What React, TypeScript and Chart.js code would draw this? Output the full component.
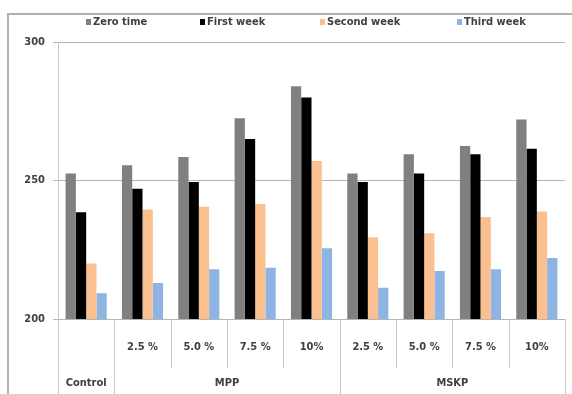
import React, { useEffect, useRef } from "react";
import { Chart, registerables } from "chart.js";

Chart.register(...registerables);

const categories = ["Control", "MPP 2.5 %", "MPP 5.0 %", "MPP 7.5 %", "MPP 10%", "MSKP 2.5 %", "MSKP 5.0 %", "MSKP 7.5 %", "MSKP 10%"];
const levelLabels = ["", "2.5 %", "5.0 %", "7.5 %", "10%", "2.5 %", "5.0 %", "7.5 %", "10%"];
const groupLabels = ["Control", "MPP", "MSKP"];
const groupStarts = [0, 1, 5];
const groupEnds = [0, 4, 8];
const seriesNames = ["Zero time", "First week", "Second week", "Third week"];
const zeroTime = [252.5, 255.5, 258.5, 272.5, 284, 252.5, 259.5, 262.5, 272];
const firstWeek = [238.5, 247, 249.5, 265, 280, 249.5, 252.5, 259.5, 261.5];
const secondWeek = [220, 239.5, 240.5, 241.5, 257, 229.5, 231, 236.8, 238.8];
const thirdWeek = [209.3, 213, 218, 218.5, 225.5, 211.3, 217.3, 218, 222];
const yTicks = [200, 250, 300];

const colors = ["#808080", "#000000", "#fac090", "#8db4e2"];
const FONT = '"Liberation Sans Narrow", "DejaVu Sans Condensed", "Liberation Sans", sans-serif';
const TEXT = "#404040";

const decorPlugin = {
  id: "decor",
  afterDraw(chart: any) {
    const ctx = chart.ctx;
    const area = chart.chartArea;
    const x = chart.scales.x;
    ctx.save();
    // outer frame
    ctx.strokeStyle = "#b0b0b0";
    ctx.lineWidth = 2;
    ctx.beginPath();
    ctx.moveTo(8, 394);
    ctx.lineTo(8, 14);
    ctx.lineTo(572, 14);
    ctx.stroke();

    // legend
    ctx.font = "bold 11px " + FONT;
    ctx.textBaseline = "middle";
    ctx.textAlign = "left";
    const legendX = [86, 200, 320, 457];
    chart.data.datasets.forEach((ds: any, i: number) => {
      ctx.fillStyle = ds.backgroundColor;
      ctx.fillRect(legendX[i], 19, 5, 6);
      ctx.fillStyle = TEXT;
      ctx.fillText(ds.label, legendX[i] + 7, 22);
    });

    // dividers
    const n = chart.data.labels.length;
    const half = (x.getPixelForValue(1) - x.getPixelForValue(0)) / 2;
    ctx.strokeStyle = "#c8c8c8";
    ctx.lineWidth = 1;
    const bounds: number[] = [];
    for (let i = 0; i <= n; i++) {
      bounds.push(i < n ? x.getPixelForValue(i) - half : x.getPixelForValue(n - 1) + half);
    }
    // axis line
    ctx.beginPath();
    ctx.moveTo(Math.round(area.left) + 0.5, area.top);
    ctx.lineTo(Math.round(area.left) + 0.5, 394);
    ctx.stroke();
    for (let i = 1; i <= n; i++) {
      const full = groupStarts.includes(i) || i === n;
      const bx = Math.round(bounds[i]) + 0.5;
      ctx.beginPath();
      ctx.moveTo(bx, area.bottom);
      ctx.lineTo(bx, full ? 394 : 368);
      ctx.stroke();
    }

    // labels
    ctx.fillStyle = TEXT;
    ctx.textAlign = "center";
    ctx.font = "bold 11px " + FONT;
    for (let i = 0; i < n; i++) {
      ctx.fillText(levelLabels[i], x.getPixelForValue(i), 347);
    }
    groupLabels.forEach((g, gi) => {
      const cx = (bounds[groupStarts[gi]] + bounds[groupEnds[gi] + 1]) / 2;
      ctx.fillText(g, cx, 383);
    });
    ctx.restore();
  },
};

export default function App() {
  const ref = useRef<HTMLCanvasElement>(null);
  useEffect(() => {
    if (!ref.current) return;
    const chart = new Chart(ref.current, {
      type: "bar",
      data: {
        labels: categories,
        datasets: [zeroTime, firstWeek, secondWeek, thirdWeek].map((d, i) => ({
          label: seriesNames[i],
          data: d,
          backgroundColor: colors[i],
          borderWidth: 0,
          categoryPercentage: 0.73,
          barPercentage: 1.0,
        })),
      },
      options: {
        animation: false,
        responsive: false,
        maintainAspectRatio: false,
        layout: { padding: { left: 0, top: 42, right: 7, bottom: 75 } },
        plugins: { legend: { display: false }, tooltip: { enabled: false } },
        scales: {
          x: { display: false },
          y: {
            min: 200,
            max: 300,
            afterFit: (s: any) => { s.width = 58; },
            afterBuildTicks: (s: any) => { s.ticks = yTicks.map((v) => ({ value: v })); },
            border: { display: false },
            grid: { color: "#b4b4b4", tickLength: 5 },
            ticks: {
              padding: 8,
              color: TEXT,
              font: { family: FONT, size: 11, weight: "bold" },
            },
          },
        },
      },
      plugins: [decorPlugin],
    });
    return () => chart.destroy();
  }, []);
  return (
    <div style={{ position: "fixed", left: 0, top: 0, width: 572, height: 394, background: "#fff" }}>
      <canvas ref={ref} width={572} height={394} style={{ width: 572, height: 394 }} />
    </div>
  );
}
